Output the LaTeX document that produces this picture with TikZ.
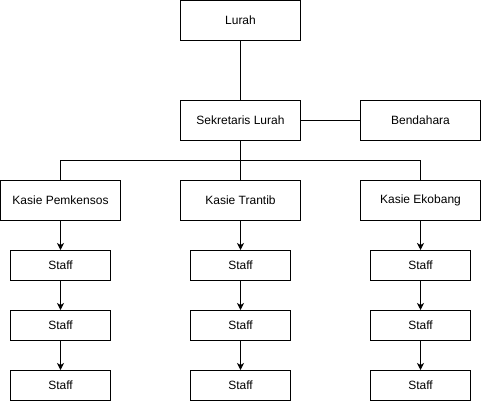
\documentclass[tikz,border=0pt]{standalone}
\usepackage{fontspec}
\setmainfont{Liberation Sans}
\usetikzlibrary{arrows.meta}
\begin{document}
\begin{tikzpicture}[x=1pt,y=-1pt,
  box/.style={draw=black,line width=1pt,fill=white,inner sep=0pt,font=\fontsize{12}{14}\selectfont},
  bigbox/.style={box,minimum width=120pt,minimum height=40pt},
  staffbox/.style={box,minimum width=100pt,minimum height=30pt},
  conn/.style={draw=black,line width=1pt},
  arr/.style={conn,-{Stealth[length=7pt,width=7pt,inset=2pt]}}]
\useasboundingbox (0,0) rectangle (481,401);
\node[bigbox] (lurah) at (240.5,20.5) {Lurah};
\node[bigbox] (sek) at (240.5,120.5) {Sekretaris Lurah};
\node[bigbox] (bend) at (420.5,120.5) {Bendahara};
\node[bigbox] (k1) at (60.5,200.5) {Kasie Pemkensos};
\node[bigbox] (k2) at (240.5,200.5) {Kasie Trantib};
\node[bigbox] (k3) at (420.5,200.5) {Kasie Ekobang};
\foreach \i/\x in {1/60.5,2/240.5,3/420.5}{
  \node[staffbox] (s\i a) at (\x,265.5) {Staff};
  \node[staffbox] (s\i b) at (\x,325.5) {Staff};
  \node[staffbox] (s\i c) at (\x,385.5) {Staff};
  \draw[arr] (k\i) -- (s\i a);
  \draw[arr] (s\i a) -- (s\i b);
  \draw[arr] (s\i b) -- (s\i c);
}
\draw[conn] (lurah) -- (sek);
\draw[conn] (sek) -- (bend);
\coordinate (mid) at (240.5,160.5);
\draw[conn] (sek.south) -- (k2.north);
\draw[conn] (k1.north) |- (mid) -| (k3.north);
\end{tikzpicture}
\end{document}
